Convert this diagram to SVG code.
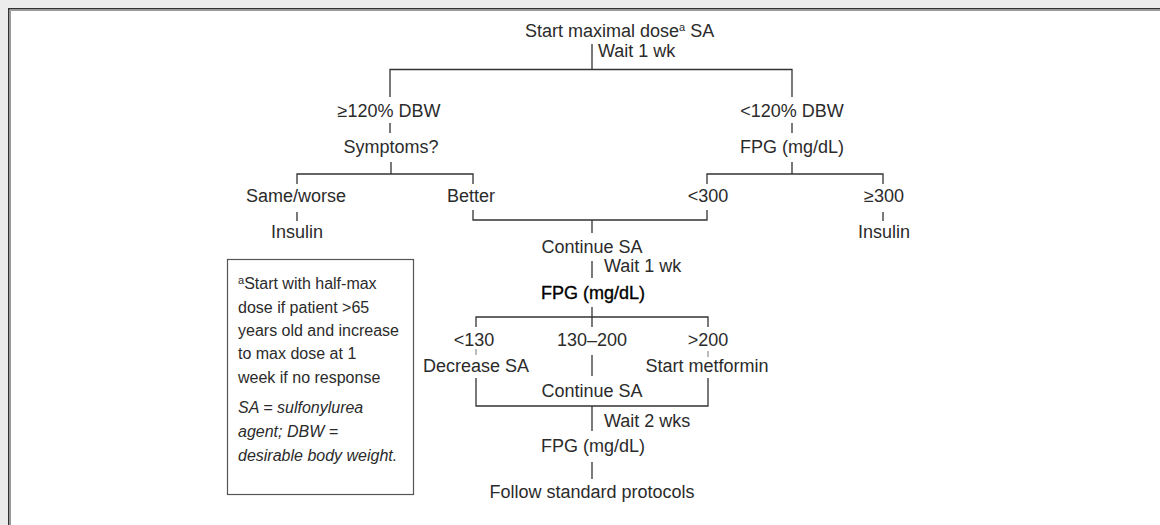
<svg xmlns="http://www.w3.org/2000/svg" width="1160" height="525" viewBox="0 0 1160 525">
  <style>
    .t { font-family: "Liberation Sans", Arial, sans-serif; font-size: 18px; fill: #2b2b2b; }
    .m { text-anchor: middle; }
    .b { fill: #000; stroke: #000; stroke-width: 0.35; }
    .fn { font-family: "Liberation Sans", Arial, sans-serif; font-size: 16px; fill: #2b2b2b; }
    .it { font-style: italic; }
    .sup { font-size: 11px; }
    .c { fill: none; stroke: #333; stroke-width: 1.3; }
    .tick { fill: none; stroke: #777; stroke-width: 1; }
  </style>
  <rect x="0" y="0" width="1160" height="525" fill="#ececec"/>
  <rect x="8" y="8" width="1152" height="517" fill="#ffffff"/>
  <path d="M10.5,525 V10.5 H1160" fill="none" stroke="#999" stroke-width="1"/>
  <path d="M8.75,525 V8.75 H1160" fill="none" stroke="#333" stroke-width="1.5"/>

  <g id="connectors">
    <path class="c" d="M592,44 V69.5 M390,97 V69.5 H792 V97"/>
    <path class="c" d="M390,123 V133 M792,123 V133"/>
    <path class="c" d="M391,162 V174 M297,184 V174 H473 V184 M792,162 V174 M707,184 V174 H883 V184"/>
    <path class="c" d="M297,212 V221 M883,212 V221"/>
    <path class="c" d="M473,210 V220 H707 V210 M592,220 V233"/>
    <path class="c" d="M592,261 V278"/>
    <path class="c" d="M592,307 V317 M476,327 V317 H708 V327 M592,317 V327"/>
    <path class="tick" d="M476,349 V355 M708,351 V357"/>
    <path class="c" d="M592,355 V376"/>
    <path class="c" d="M476,378 V406 H708 V378 M592,406 V431"/>
    <path class="c" d="M592,462 V479"/>
  </g>

  <g id="n-start"><text class="t" x="525" y="37">Start maximal dose<tspan class="sup" dy="-6">a</tspan><tspan dy="6"> SA</tspan></text></g>
  <g id="l-wait1"><text class="t" x="598" y="57">Wait 1 wk</text></g>
  <g id="n-ge120"><text class="t m" x="389" y="117">≥120% DBW</text></g>
  <g id="n-lt120"><text class="t m" x="792" y="117">&lt;120% DBW</text></g>
  <g id="n-symptoms"><text class="t m" x="391" y="153">Symptoms?</text></g>
  <g id="n-fpg1"><text class="t m" x="792" y="153">FPG (mg/dL)</text></g>
  <g id="n-same"><text class="t m" x="296" y="202">Same/worse</text></g>
  <g id="n-better"><text class="t m" x="471" y="202">Better</text></g>
  <g id="n-lt300"><text class="t m" x="708" y="202">&lt;300</text></g>
  <g id="n-ge300"><text class="t m" x="884" y="202">≥300</text></g>
  <g id="n-insulin1"><text class="t m" x="297" y="238">Insulin</text></g>
  <g id="n-insulin2"><text class="t m" x="884" y="238">Insulin</text></g>
  <g id="n-continue1"><text class="t m" x="592" y="253">Continue SA</text></g>
  <g id="l-wait1b"><text class="t" x="604" y="272">Wait 1 wk</text></g>
  <g id="n-fpg2"><text class="t m b" x="593" y="299">FPG (mg/dL)</text></g>
  <g id="n-lt130"><text class="t m" x="474" y="346">&lt;130</text></g>
  <g id="n-130200"><text class="t m" x="592" y="346">130–200</text></g>
  <g id="n-gt200"><text class="t m" x="708" y="346">&gt;200</text></g>
  <g id="n-decrease"><text class="t m" x="476" y="372">Decrease SA</text></g>
  <g id="n-metformin"><text class="t m" x="707" y="372">Start metformin</text></g>
  <g id="n-continue2"><text class="t m" x="592" y="397">Continue SA</text></g>
  <g id="l-wait2"><text class="t" x="604" y="427">Wait 2 wks</text></g>
  <g id="n-fpg3"><text class="t m" x="593" y="452">FPG (mg/dL)</text></g>
  <g id="n-follow"><text class="t m" x="592" y="498">Follow standard protocols</text></g>

  <g id="footnote">
    <rect x="227.5" y="259.5" width="186" height="235" fill="#fff" stroke="#555" stroke-width="1.2"/>
    <text class="fn" x="238" y="289"><tspan class="sup" dy="-5">a</tspan><tspan dy="5">Start with half-max</tspan></text>
    <text class="fn" x="238" y="313">dose if patient &gt;65</text>
    <text class="fn" x="238" y="336">years old and increase</text>
    <text class="fn" x="238" y="359">to max dose at 1</text>
    <text class="fn" x="238" y="383">week if no response</text>
    <text class="fn it" x="238" y="413">SA = sulfonylurea</text>
    <text class="fn it" x="238" y="437">agent; DBW =</text>
    <text class="fn it" x="238" y="461">desirable body weight.</text>
  </g>
</svg>
